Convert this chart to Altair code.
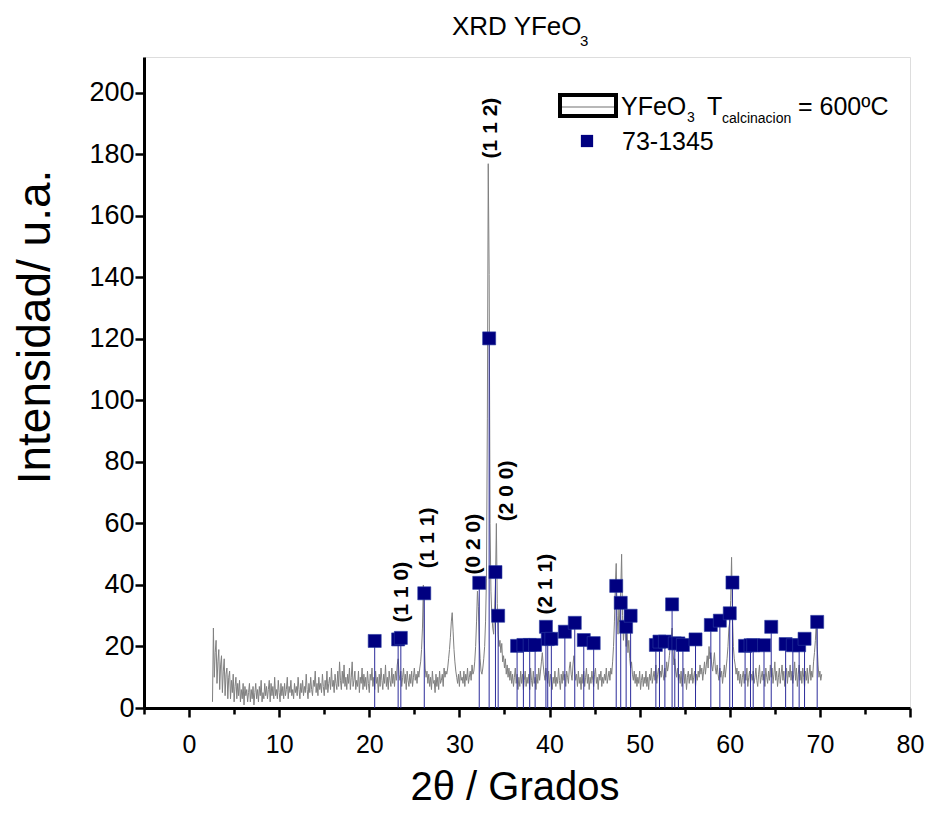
import altair as alt
import pandas as pd

FONT = "Liberation Sans, Arial, sans-serif"

# ---- XRD pattern: 2theta grid from 2.6 deg in 0.1 deg steps (one row = 1 deg) ----
theta_start = 2.6
theta_step = 0.1
intensity = [
    2, 26, 10, 18, 22, 8, 15, 19, 6, 14,          # 2.6
    17, 5, 12, 16, 4, 11, 13, 3, 10, 12,          # 3.6
    3, 9, 5, 11, 2, 7, 10, 3, 8, 4,               # 4.6
    9, 2, 6, 3, 8, 1, 7, 4, 6, 2,                 # 5.6
    5, 8, 2, 6, 3, 7, 1, 5, 8, 3,                 # 6.6
    6, 2, 7, 4, 9, 2, 5, 3, 8, 4,                 # 7.6
    7, 3, 6, 9, 2, 8, 4, 7, 3, 10,                # 8.6
    4, 6, 3, 9, 5, 2, 8, 4, 7, 3,                 # 9.6
    8, 4, 6, 10, 3, 7, 5, 9, 4, 6,                # 10.6
    3, 8, 5, 7, 4, 10, 6, 3, 8, 5,                # 11.6
    9, 4, 7, 5, 11, 6, 3, 8, 5, 10,               # 12.6
    6, 4, 9, 7, 12, 5, 8, 4, 10, 6,               # 13.6
    8, 5, 11, 7, 4, 9, 6, 12, 5, 8,               # 14.6
    10, 6, 13, 7, 9, 5, 11, 8, 6, 12,             # 15.6
    7, 15, 9, 6, 12, 8, 14, 7, 10, 6,             # 16.6
    11, 8, 13, 6, 10, 15, 7, 9, 12, 6,            # 17.6
    9, 7, 12, 5, 10, 8, 13, 6, 11, 7,             # 18.6
    10, 6, 12, 8, 5, 11, 9, 13, 7, 10,            # 19.6
    6, 12, 8, 10, 5, 11, 7, 13, 9, 6,             # 20.6
    11, 8, 14, 7, 10, 6, 12, 9, 7, 13,            # 21.6
    8, 11, 7, 12, 9, 14, 16, 11, 9, 12,           # 22.6
    7, 10, 13, 8, 11, 6, 12, 9, 7, 11,            # 23.6
    8, 12, 7, 10, 13, 9, 11, 8, 12, 10,           # 24.6
    13, 15, 19, 26, 40, 22, 13, 10, 12, 8,        # 25.6
    11, 7, 10, 6, 12, 8, 9, 5, 11, 7,             # 26.6
    10, 6, 12, 8, 9, 11, 7, 13, 10, 12,           # 27.6
    11, 13, 16, 19, 23, 28, 31, 25, 19, 15,       # 28.6
    12, 10, 8, 11, 7, 12, 9, 10, 8, 12,           # 29.6
    7, 11, 9, 13, 8, 10, 12, 9, 14, 11,           # 30.6
    12, 15, 20, 28, 38, 33, 22, 16, 12, 11,       # 31.6
    13, 16, 20, 28, 42, 94, 177, 141, 60, 38,     # 32.6
    30, 26, 24, 32, 40, 60, 34, 24, 20, 22,       # 33.6
    18, 21, 15, 17, 13, 16, 11, 14, 10, 13,       # 34.6
    9, 12, 8, 11, 7, 10, 13, 8, 11, 6,            # 35.6
    10, 7, 12, 8, 11, 6, 9, 12, 7, 10,            # 36.6
    8, 11, 6, 13, 9, 7, 12, 8, 10, 6,             # 37.6
    11, 8, 13, 9, 12, 15, 18, 14, 11, 9,          # 38.6
    13, 10, 8, 12, 7, 11, 9, 6, 10, 8,            # 39.6
    12, 7, 10, 8, 13, 9, 6, 11, 8, 12,            # 40.6
    9, 11, 7, 12, 10, 8, 13, 15, 11, 9,           # 41.6
    14, 17, 12, 9, 11, 7, 12, 8, 10, 6,           # 42.6
    11, 8, 12, 7, 10, 13, 8, 11, 6, 10,           # 43.6
    8, 12, 9, 7, 11, 13, 8, 10, 6, 11,            # 44.6
    9, 12, 7, 10, 8, 11, 9, 13, 8, 10,            # 45.6
    12, 9, 13, 11, 15, 20, 28, 40, 47, 30,        # 46.6
    24, 33, 28, 38, 50, 30, 22, 26, 30, 20,       # 47.6
    25, 18, 22, 16, 13, 15, 11, 9, 12, 8,         # 48.6
    11, 7, 10, 8, 12, 6, 9, 11, 7, 10,            # 49.6
    8, 12, 7, 10, 6, 11, 9, 13, 8, 10,            # 50.6
    12, 9, 14, 8, 11, 13, 9, 12, 10, 14,          # 51.6
    11, 9, 13, 10, 15, 12, 14, 17, 20, 23,        # 52.6
    26, 19, 14, 16, 12, 10, 13, 9, 11, 8,         # 53.6
    12, 7, 10, 13, 8, 11, 6, 10, 12, 8,           # 54.6
    11, 9, 13, 8, 10, 12, 7, 11, 9, 12,           # 55.6
    10, 14, 11, 13, 9, 12, 15, 11, 14, 17,        # 56.6
    13, 20, 16, 18, 14, 12, 15, 18, 13, 11,       # 57.6
    14, 11, 9, 13, 10, 12, 8, 11, 14, 10,         # 58.6
    13, 16, 20, 26, 28, 35, 49, 30, 20, 16,       # 59.6
    14, 11, 13, 9, 12, 8, 11, 7, 10, 12,          # 60.6
    8, 11, 9, 13, 7, 10, 12, 8, 11, 9,            # 61.6
    12, 8, 10, 13, 9, 7, 11, 14, 8, 10,           # 62.6
    12, 9, 11, 7, 13, 10, 8, 12, 9, 14,           # 63.6
    10, 13, 8, 11, 15, 9, 12, 7, 10, 13,          # 64.6
    8, 11, 14, 9, 12, 7, 10, 13, 8, 12,           # 65.6
    10, 14, 9, 12, 8, 11, 15, 9, 13, 7,           # 66.6
    11, 14, 9, 12, 8, 13, 10, 7, 12, 9,           # 67.6
    13, 8, 11, 14, 9, 12, 10, 15, 18, 22,         # 68.6
    28, 20, 14, 10, 12, 9, 11,                    # 69.6
]
two_theta = [round(theta_start + i * theta_step, 2) for i in range(len(intensity))]

# ---- reference card 73-1345 ----
ref_pos = [20.6, 23.2, 23.5, 26.1, 32.2, 33.3, 34.0, 34.3, 36.4, 37.1, 37.8, 38.4,
           39.6, 39.8, 40.2, 41.7, 42.8, 43.8, 44.9, 47.4, 47.9, 48.5, 49.0, 51.8,
           52.2, 52.8, 53.6, 53.9, 54.3, 54.8, 56.2, 57.9, 58.9, 60.0, 60.3, 61.7,
           62.3, 62.6, 63.8, 64.6, 66.2, 67.0, 67.7, 68.3, 69.7]
ref_int = [21.8, 22.3, 22.8, 37.3, 40.7, 120.2, 44.2, 30.0, 20.2, 20.5, 20.5, 20.5,
           26.4, 22.4, 22.5, 24.8, 27.7, 22.1, 21.1, 39.7, 34.2, 26.4, 30.0, 20.5,
           21.6, 21.6, 33.7, 21.0, 21.0, 20.5, 22.3, 27.0, 28.4, 30.8, 40.8, 20.2,
           20.4, 20.4, 20.4, 26.4, 20.8, 20.4, 20.4, 22.5, 28.0]

# ---- Miller index annotations ----
hkl_text = ["(1 1 0)", "(1 1 1)", "(0 2 0)", "(1 1 2)", "(2 0 0)", "(2 1 1)"]
hkl_x = [23.6, 26.5, 31.6, 33.5, 35.3, 39.6]
hkl_y = [37.7, 55.3, 53.3, 188.6, 70.6, 40.3]

pattern = pd.DataFrame({"t": two_theta, "i": intensity})
ref = pd.DataFrame({"t": ref_pos, "i": ref_int, "z": [0.0] * len(ref_pos)})
hkl = pd.DataFrame({"t": hkl_x, "i": hkl_y, "lab": hkl_text})

W, H = 766, 651
x_scale = alt.Scale(domain=[-5, 80], nice=False, zero=False)
y_scale = alt.Scale(domain=[0, 211.7], nice=False)

x_axis = alt.Axis(
    values=list(range(-5, 81, 5)),
    labelExpr="datum.value % 10 === 0 ? datum.label : ''",
    tickSize={"condition": {"test": "datum.value % 10 === 0", "value": 9}, "value": 6},
    tickWidth=2.5, tickColor="black", domainColor="black", domainWidth=3,
    labelFontSize=25, labelFont=FONT, labelColor="black", labelPadding=15,
    grid=False, title=None, labelFlush=False, labelOverlap=False,
)
y_axis = alt.Axis(
    values=list(range(0, 201, 10)),
    labelExpr="datum.value % 20 === 0 ? datum.label : ''",
    tickSize={"condition": {"test": "datum.value % 20 === 0", "value": 9}, "value": 6},
    tickWidth=2.5, tickColor="black", domainColor="black", domainWidth=3,
    labelFontSize=27, labelFont=FONT, labelColor="black", labelPadding=1,
    grid=False, title=None, labelFlush=False, labelOverlap=False,
)

line = alt.Chart(pattern).mark_line(color="#808080", strokeWidth=1).encode(
    x=alt.X("t:Q", scale=x_scale, axis=x_axis),
    y=alt.Y("i:Q", scale=y_scale, axis=y_axis),
)
sticks = alt.Chart(ref).mark_rule(color="#2b2b9a", strokeWidth=1).encode(
    x=alt.X("t:Q", scale=x_scale), y=alt.Y("z:Q", scale=y_scale), y2="i:Q"
)
squares = alt.Chart(ref).mark_square(size=170, color="#000080", opacity=1,
                                     stroke="#2a3aa0", strokeWidth=0.6).encode(
    x=alt.X("t:Q", scale=x_scale), y=alt.Y("i:Q", scale=y_scale)
)
labels = alt.Chart(hkl).mark_text(angle=270, fontWeight="bold", fontSize=21, font=FONT,
                                  color="black", align="center", baseline="middle").encode(
    x=alt.X("t:Q", scale=x_scale), y=alt.Y("i:Q", scale=y_scale), text="lab:N"
)

one = pd.DataFrame({"k": [0]})


def txt(s, x, y, size, angle=0, align="left", baseline="alphabetic"):
    kw = dict(fontSize=size, font=FONT, color="black", align=align, baseline=baseline, text=s)
    if angle:
        kw["angle"] = angle
    return alt.Chart(one).mark_text(**kw).encode(x=alt.value(x), y=alt.value(y))


# legend
leg_box = alt.Chart(one).mark_rect(fill="white", stroke="black", strokeWidth=4).encode(
    x=alt.value(416), x2=alt.value(472), y=alt.value(38), y2=alt.value(59))
leg_line = alt.Chart(one).mark_rule(color="#a0a0a0", strokeWidth=1.5).encode(
    x=alt.value(418), x2=alt.value(470), y=alt.value(50))
leg_sq = alt.Chart(one).mark_square(size=150, color="#000080", opacity=1).encode(
    x=alt.value(443), y=alt.value(84))

texts = [
    txt("YFeO", 477, 58, 25),
    txt("3", 543, 65, 14),
    txt("T", 563, 58, 25),
    txt("calcinacion", 578, 66, 14),
    txt("= 600ºC", 654, 58, 25),
    txt("73-1345", 478, 93, 25),
    txt("XRD YFeO", 308, -22, 26),
    txt("3", 436, -11, 15),
    txt("2θ / Grados", W / 2 - 12, 743, 40, align="center"),
    txt("Intensidad/ u.a.", -108, 327 - 57, 46, angle=270, align="center", baseline="middle"),
]

chart = alt.layer(line, sticks, squares, labels, leg_box, leg_line, leg_sq, *texts).properties(
    width=W, height=H,
    autosize=alt.AutoSizeParams(type="none"),
    padding={"left": 136, "top": 49, "right": 15, "bottom": 100},
).configure_view(stroke="black", strokeWidth=3).configure(background="white")

chart.save("out.html", embed_options={"renderer": "svg", "actions": False})
